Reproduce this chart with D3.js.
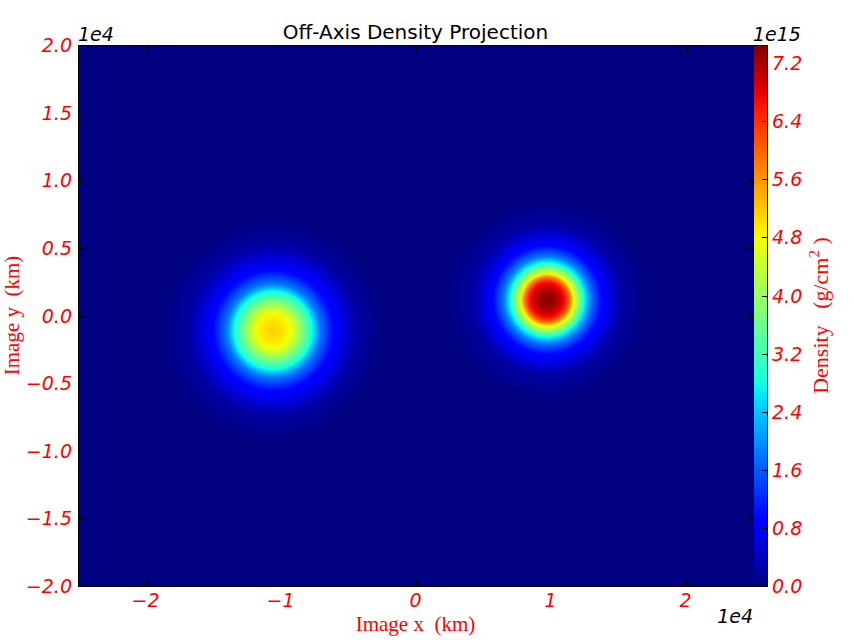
<!DOCTYPE html>
<html>
<head>
<meta charset="utf-8">
<script src="https://cdn.jsdelivr.net/npm/d3@7"></script>
<style>
  body { margin: 0; background: #fff; }
  svg { display: block; }
</style>
</head>
<body>
<div id="chart"></div>
<script>
// two density blobs: centre (km) and radial profile
// (radius in km, projected density in 1e15 g/cm^2)
const blobX = [-10540, 9750];
const blobY = [-1110, 1150];
const leftR = [0, 740, 1410, 2150, 2890, 3410, 4520, 6300, 8150];
const leftV = [5.14, 4.99, 4.69, 3.73, 2.79, 1.86, 0.89, 0.22, 0];
const rightR = [0, 740, 1330, 1700, 1930, 2370, 2740, 3190, 4070, 5560, 7410];
const rightV = [7.45, 7.15, 6.63, 5.74, 4.84, 3.73, 2.79, 1.86, 0.89, 0.22, 0];

const xTicks = [-2e4, -1e4, 0, 1e4, 2e4];
const xTickLabels = ['\u22122', '\u22121', '0', '1', '2'];
const yTicks = [-2e4, -1.5e4, -1e4, -0.5e4, 0, 0.5e4, 1e4, 1.5e4, 2e4];
const yTickLabels = ['\u22122.0', '\u22121.5', '\u22121.0', '\u22120.5', '0.0', '0.5', '1.0', '1.5', '2.0'];
const cbTicks = [0, 0.8, 1.6, 2.4, 3.2, 4.0, 4.8, 5.6, 6.4, 7.2];
const cbTickLabels = ['0.0', '0.8', '1.6', '2.4', '3.2', '4.0', '4.8', '5.6', '6.4', '7.2'];

const W = 854, H = 640;
const pLeft = 78, pRight = 753, pTop = 45, pBottom = 586;
const cbRight = 767;
const tickLen = 6;

const svg = d3.select('#chart').append('svg')
  .attr('width', W).attr('height', H);

// scales
const x = d3.scaleLinear().domain([-2.5e4, 2.5e4]).range([pLeft, pRight]);
const y = d3.scaleLinear().domain([-2e4, 2e4]).range([pBottom, pTop]);
const vmax = Math.max(d3.max(leftV), d3.max(rightV));
const cbY = d3.scaleLinear().domain([0, vmax]).range([pBottom, pTop]);

// radial profiles as scales
const profiles = [
  d3.scaleLinear().domain(leftR).range(leftV).clamp(true),
  d3.scaleLinear().domain(rightR).range(rightV).clamp(true)
];

// jet colormap
const jr = d3.scaleLinear().domain([0, 0.35, 0.66, 0.89, 1]).range([0, 0, 1, 1, 0.5]).clamp(true);
const jg = d3.scaleLinear().domain([0, 0.125, 0.375, 0.64, 0.91, 1]).range([0, 0, 1, 1, 0, 0]).clamp(true);
const jb = d3.scaleLinear().domain([0, 0.11, 0.34, 0.65, 1]).range([0.5, 1, 1, 0, 0]).clamp(true);
const norm = d3.scaleLinear().domain([0, vmax]).range([0, 1]).clamp(true);
function jet(v) {
  const t = norm(v);
  return [Math.round(jr(t) * 255), Math.round(jg(t) * 255), Math.round(jb(t) * 255)];
}

function density(px, py) {
  let s = 0;
  for (let i = 0; i < blobX.length; i++) {
    s += profiles[i](Math.hypot(px - blobX[i], py - blobY[i]));
  }
  return s;
}

// render the image into a canvas, then place it in the svg
const iw = pRight - pLeft, ih = pBottom - pTop;
const canvas = document.createElement('canvas');
canvas.width = iw; canvas.height = ih;
const ctx = canvas.getContext('2d');
const img = ctx.createImageData(iw, ih);
for (let j = 0; j < ih; j++) {
  const dy = y.invert(pTop + j + 0.5);
  for (let i = 0; i < iw; i++) {
    const dx = x.invert(pLeft + i + 0.5);
    const c = jet(density(dx, dy));
    const k = (j * iw + i) * 4;
    img.data[k] = c[0]; img.data[k + 1] = c[1]; img.data[k + 2] = c[2]; img.data[k + 3] = 255;
  }
}
ctx.putImageData(img, 0, 0);
svg.append('image')
  .attr('x', pLeft).attr('y', pTop)
  .attr('width', iw).attr('height', ih)
  .attr('preserveAspectRatio', 'none')
  .attr('href', canvas.toDataURL());

// colorbar gradient
const defs = svg.append('defs');
const grad = defs.append('linearGradient').attr('id', 'cbgrad')
  .attr('x1', 0).attr('y1', 1).attr('x2', 0).attr('y2', 0);
d3.range(0, 1.0001, 0.02).forEach(t => {
  const c = jet(t * vmax);
  grad.append('stop').attr('offset', t).attr('stop-color', `rgb(${c[0]},${c[1]},${c[2]})`);
});
svg.append('rect')
  .attr('x', pRight).attr('y', pTop)
  .attr('width', cbRight - pRight).attr('height', pBottom - pTop)
  .attr('fill', 'url(#cbgrad)');

// ticks (inward, all four sides)
const tickG = svg.append('g').attr('stroke', '#000').attr('stroke-width', 1);
xTicks.forEach(t => {
  const px = Math.round(x(t)) + 0.5;
  tickG.append('line').attr('x1', px).attr('x2', px).attr('y1', pBottom).attr('y2', pBottom - tickLen);
  tickG.append('line').attr('x1', px).attr('x2', px).attr('y1', pTop).attr('y2', pTop + tickLen);
});
yTicks.forEach(t => {
  const py = Math.round(y(t)) + 0.5;
  tickG.append('line').attr('x1', pLeft).attr('x2', pLeft + tickLen).attr('y1', py).attr('y2', py);
  tickG.append('line').attr('x1', pRight).attr('x2', pRight - tickLen).attr('y1', py).attr('y2', py);
});
cbTicks.forEach(t => {
  const py = Math.round(cbY(t)) + 0.5;
  tickG.append('line').attr('x1', cbRight).attr('x2', cbRight - 5).attr('y1', py).attr('y2', py);
});

// frames
svg.append('rect')
  .attr('x', pLeft + 0.5).attr('y', pTop + 0.5)
  .attr('width', iw).attr('height', ih)
  .attr('fill', 'none').attr('stroke', '#000');
svg.append('rect')
  .attr('x', pRight + 0.5).attr('y', pTop + 0.5)
  .attr('width', cbRight - pRight).attr('height', ih)
  .attr('fill', 'none').attr('stroke', '#000');

// tick labels
const sans = 'DejaVu Sans, sans-serif';
const tl = svg.append('g')
  .attr('font-family', sans).attr('font-size', 19).attr('font-style', 'italic').attr('fill', 'red');
xTicks.forEach((t, i) => {
  tl.append('text').attr('x', x(t)).attr('y', 607)
    .attr('text-anchor', 'middle').text(xTickLabels[i]);
});
yTicks.forEach((t, i) => {
  tl.append('text').attr('x', 72).attr('y', y(t) + 7)
    .attr('text-anchor', 'end').text(yTickLabels[i]);
});
cbTicks.forEach((t, i) => {
  tl.append('text').attr('x', 772).attr('y', cbY(t) + 7)
    .attr('text-anchor', 'start').text(cbTickLabels[i]);
});

// offset labels
const off = svg.append('g')
  .attr('font-family', sans).attr('font-size', 19).attr('font-style', 'italic').attr('fill', '#000');
off.append('text').attr('x', pLeft).attr('y', 41).text('1e4');
off.append('text').attr('x', pRight).attr('y', 41).text('1e15');
off.append('text').attr('x', pRight).attr('y', 623).attr('text-anchor', 'end').text('1e4');

// title
svg.append('text')
  .attr('x', (pLeft + pRight) / 2).attr('y', 39)
  .attr('text-anchor', 'middle')
  .attr('font-family', sans).attr('font-size', 20).attr('fill', '#000')
  .text('Off-Axis Density Projection');

// axis labels (serif, red)
const serif = 'Liberation Serif, DejaVu Serif, serif';
svg.append('text')
  .attr('x', (pLeft + pRight) / 2).attr('y', 631)
  .attr('text-anchor', 'middle')
  .attr('font-family', serif).attr('font-size', 21).attr('fill', 'red')
  .text('Image x\u00a0\u00a0(km)');
svg.append('text')
  .attr('transform', `translate(19,${(pTop + pBottom) / 2}) rotate(-90)`)
  .attr('text-anchor', 'middle')
  .attr('font-family', serif).attr('font-size', 21).attr('fill', 'red')
  .text('Image y\u00a0\u00a0(km)');
const cbLab = svg.append('text')
  .attr('transform', `translate(828,${(pTop + pBottom) / 2}) rotate(-90)`)
  .attr('text-anchor', 'middle')
  .attr('font-family', serif).attr('font-size', 22).attr('fill', 'red');
cbLab.append('tspan').text('Density\u00a0\u00a0\u00a0(g/cm');
cbLab.append('tspan').attr('dy', -9).attr('font-size', 15).text('2');
cbLab.append('tspan').attr('dy', 9).text('\u00a0)');
</script>
</body>
</html>
